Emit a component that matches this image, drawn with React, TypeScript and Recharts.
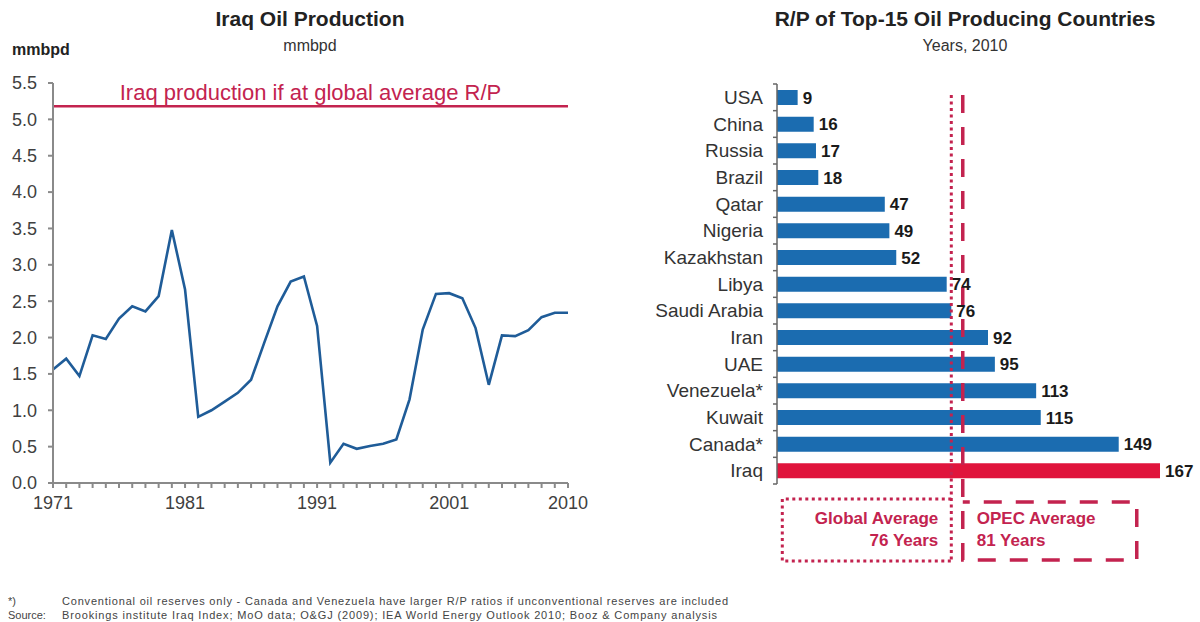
import React from "react"
import {
  LineChart,
  Line,
  BarChart,
  Bar,
  Cell,
  LabelList,
  XAxis,
  YAxis,
  ReferenceLine,
} from "recharts"

// left panel: Iraq oil production, mmbpd
const years = [
  1971, 1972, 1973, 1974, 1975, 1976, 1977, 1978, 1979, 1980,
  1981, 1982, 1983, 1984, 1985, 1986, 1987, 1988, 1989, 1990,
  1991, 1992, 1993, 1994, 1995, 1996, 1997, 1998, 1999, 2000,
  2001, 2002, 2003, 2004, 2005, 2006, 2007, 2008, 2009, 2010,
]
const production = [
  1.56, 1.71, 1.47, 2.03, 1.98, 2.26, 2.43, 2.36, 2.57, 3.48,
  2.66, 0.91, 1.0, 1.12, 1.24, 1.42, 1.93, 2.43, 2.77, 2.84,
  2.16, 0.28, 0.54, 0.47, 0.51, 0.54, 0.6, 1.15, 2.11, 2.6,
  2.61, 2.54, 2.13, 1.35, 2.03, 2.02, 2.1, 2.28, 2.34, 2.34,
]
const yearLabels = [1971, 1981, 1991, 2001, 2010]
const productionTicks = [0, 0.5, 1, 1.5, 2, 2.5, 3, 3.5, 4, 4.5, 5, 5.5]
const productionAtGlobalRP = 5.18

// right panel: R/P of top-15 producers, years
const countries = [
  "USA", "China", "Russia", "Brazil", "Qatar", "Nigeria", "Kazakhstan", "Libya",
  "Saudi Arabia", "Iran", "UAE", "Venezuela*", "Kuwait", "Canada*", "Iraq",
]
const rpYears = [9, 16, 17, 18, 47, 49, 52, 74, 76, 92, 95, 113, 115, 149, 167]
const highlight = "Iraq"
const globalAverage = 76
const opecAverage = 81

const BLUE = "#1b6cb0"
const RED = "#e0143c"
const CRIMSON = "#c3234f"
const LINE_BLUE = "#1f5c98"
const AXIS = "#8a8a8a"
const FONT = "'Liberation Sans', Arial, Helvetica, sans-serif"

const lineData = years.map((year, i) => ({ year, value: production[i] }))
const barData = countries.map((country, i) => ({ country, rp: rpYears[i] }))

const RIGHT_PLOT_H = 400
const BAND = RIGHT_PLOT_H / countries.length
const TICK_MARGIN = 14

function CountryTick(props: any) {
  const { x, y, payload, index } = props
  const axisX = x + TICK_MARGIN
  const half = BAND / 2
  return (
    <g>
      <text x={x} y={y} dy={6.5} textAnchor="end" fontSize={19} fill="#333" fontFamily={FONT}>
        {payload.value}
      </text>
      <line x1={axisX - 4} x2={axisX} y1={y - half} y2={y - half} stroke="#666" strokeWidth={1.5} />
      {index === countries.length - 1 && (
        <line x1={axisX - 4} x2={axisX} y1={y + half} y2={y + half} stroke="#666" strokeWidth={1.5} />
      )}
    </g>
  )
}

const boxText = {
  fontSize: 17,
  fontWeight: 700,
  fill: CRIMSON,
  fontFamily: FONT,
}

function GlobalAverageShape(props: any) {
  const { x1, y1, y2 } = props
  const top = Math.min(y1, y2)
  const bottom = Math.max(y1, y2)
  return (
    <g>
      <line x1={x1} x2={x1} y1={top + 11} y2={bottom + 77} stroke={CRIMSON} strokeWidth={3} strokeDasharray="3 3.5" />
      <path
        d={`M${x1} ${bottom + 15} H${x1 - 169} V${bottom + 77} H${x1}`}
        fill="none"
        stroke={CRIMSON}
        strokeWidth={3}
        strokeDasharray="3 3.5"
      />
      <text x={x1 - 13} y={bottom + 40} textAnchor="end" {...boxText}>Global Average</text>
      <text x={x1 - 13} y={bottom + 62} textAnchor="end" {...boxText}>{globalAverage} Years</text>
    </g>
  )
}

function OpecAverageShape(props: any) {
  const { x1, y1, y2 } = props
  const top = Math.min(y1, y2)
  const bottom = Math.max(y1, y2)
  return (
    <g>
      <path
        d={`M${x1} ${top + 11} V${bottom + 76} H${x1 + 174} V${bottom + 18} H${x1}`}
        fill="none"
        stroke={CRIMSON}
        strokeWidth={3.5}
        strokeDasharray="18 14"
      />
      <text x={x1 + 14} y={bottom + 40} {...boxText}>OPEC Average</text>
      <text x={x1 + 14} y={bottom + 62} {...boxText}>{opecAverage} Years</text>
    </g>
  )
}

const titleStyle: React.CSSProperties = {
  position: "absolute",
  textAlign: "center",
  fontWeight: 700,
  fontSize: 21,
  color: "#222",
  width: 500,
}
const subStyle: React.CSSProperties = {
  position: "absolute",
  textAlign: "center",
  fontSize: 16,
  color: "#333",
  width: 500,
}

export default function App() {
  return (
    <div
      style={{
        position: "absolute",
        left: 0,
        top: 0,
        width: 1200,
        height: 622,
        background: "#fff",
        fontFamily: FONT,
        overflow: "hidden",
      }}
    >
      <div style={{ ...titleStyle, left: 60, top: 7 }}>Iraq Oil Production</div>
      <div style={{ ...subStyle, left: 60, top: 37 }}>mmbpd</div>
      <div style={{ position: "absolute", left: 12, top: 41, fontSize: 16, fontWeight: 700, color: "#222" }}>mmbpd</div>

      <div style={{ ...titleStyle, left: 715, top: 7 }}>R/P of Top-15 Oil Producing Countries</div>
      <div style={{ ...subStyle, left: 715, top: 37 }}>Years, 2010</div>

      <div style={{ position: "absolute", left: 0, top: 0 }}>
        <LineChart width={600} height={520} data={lineData} margin={{ top: 83, right: 32, bottom: 7, left: 8 }}>
          <XAxis
            dataKey="year"
            type="number"
            domain={[1971, 2010]}
            ticks={years}
            interval={0}
            tickFormatter={(v: number) => (yearLabels.includes(v) ? String(v) : "")}
            height={30}
            stroke={AXIS}
            strokeWidth={2}
            tickSize={5}
            tickMargin={8}
            tick={{ fill: "#404040", fontSize: 18, fontFamily: FONT }}
          />
          <YAxis
            type="number"
            domain={[0, 5.5]}
            ticks={productionTicks}
            interval={0}
            tickFormatter={(v: number) => v.toFixed(1)}
            width={45}
            stroke={AXIS}
            strokeWidth={2}
            tickSize={5}
            tickMargin={11}
            tick={{ fill: "#404040", fontSize: 18, fontFamily: FONT }}
          />
          <ReferenceLine
            y={productionAtGlobalRP}
            stroke={CRIMSON}
            strokeWidth={2.5}
            label={{
              value: "Iraq production if at global average R/P",
              position: "top",
              offset: 6,
              fill: CRIMSON,
              fontSize: 22,
              fontFamily: FONT,
            }}
          />
          <Line
            dataKey="value"
            type="linear"
            stroke={LINE_BLUE}
            strokeWidth={2.6}
            dot={false}
            isAnimationActive={false}
          />
        </LineChart>
      </div>

      <div style={{ position: "absolute", left: 600, top: 0 }}>
        <BarChart
          width={600}
          height={600}
          data={barData}
          layout="vertical"
          margin={{ top: 84, right: 40, bottom: 116, left: 0 }}
          barCategoryGap={0}
        >
          <XAxis type="number" hide domain={[0, 167]} />
          <YAxis
            type="category"
            dataKey="country"
            width={177}
            interval={0}
            tickSize={0}
            tickMargin={TICK_MARGIN}
            stroke="#666"
            strokeWidth={1.5}
            tick={<CountryTick />}
          />
          <Bar dataKey="rp" barSize={15} isAnimationActive={false}>
            {barData.map((d) => (
              <Cell key={d.country} fill={d.country === highlight ? RED : BLUE} />
            ))}
            <LabelList
              dataKey="rp"
              position="right"
              offset={5}
              fill="#1a1a1a"
              fontSize={17}
              fontWeight={700}
              fontFamily={FONT}
            />
          </Bar>
          <ReferenceLine x={globalAverage} stroke={CRIMSON} shape={<GlobalAverageShape />} />
          <ReferenceLine x={opecAverage} stroke={CRIMSON} shape={<OpecAverageShape />} />
        </BarChart>
      </div>

      <svg width={1200} height={40} style={{ position: "absolute", left: 0, top: 592 }}>
        <g fontFamily={FONT} fontSize={11} fill="#444">
          <text x={8} y={13}>*)</text>
          <text x={62} y={13} textLength={666} lengthAdjust="spacing">
            Conventional  oil reserves only - Canada and Venezuela  have larger R/P ratios if unconventional  reserves are included
          </text>
          <text x={8} y={27}>Source:</text>
          <text x={62} y={27} textLength={655} lengthAdjust="spacing">
            Brookings institute  Iraq Index; MoO data; O&amp;GJ (2009); IEA World Energy Outlook  2010; Booz &amp; Company analysis
          </text>
        </g>
      </svg>
    </div>
  )
}
